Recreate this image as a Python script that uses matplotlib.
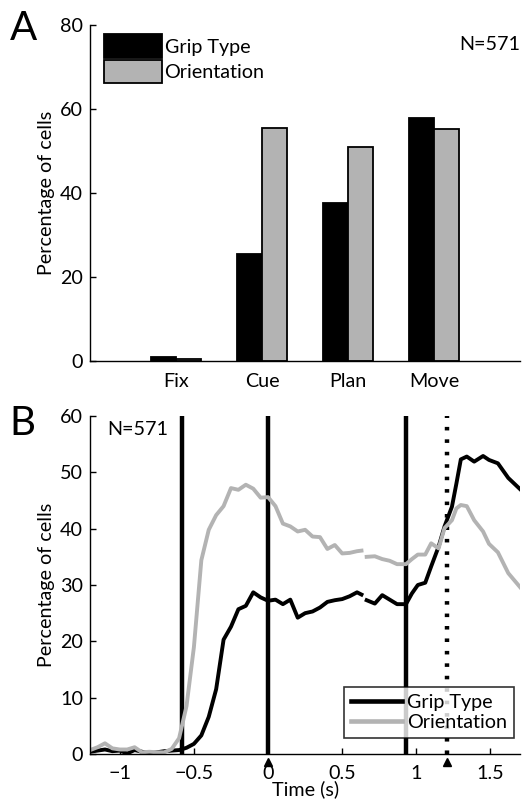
import numpy as np
import matplotlib
matplotlib.use("Agg")
import matplotlib.pyplot as plt

plt.rcParams['font.family'] = ['Lato', 'DejaVu Sans']
FS = 14.2
plt.rcParams['font.size'] = FS

GRAY = "#b3b3b3"

# Panel A: percentage of tuned cells per task phase
phases = ["Fix", "Cue", "Plan", "Move"]
pct_grip = [1.0, 25.5, 37.5, 57.8]
pct_orient = [0.5, 55.5, 51.0, 55.2]

# Panel B: sliding-window percentages over time (nan = gap)
t = [-1.2, -1.15, -1.1, -1.05, -1.0, -0.95, -0.9, -0.85, -0.8, -0.75,
     -0.7, -0.65, -0.6, -0.55, -0.5, -0.45, -0.4, -0.35, -0.3, -0.25,
     -0.2, -0.15, -0.1, -0.05, 0.0, 0.05, 0.1, 0.15, 0.2, 0.25,
     0.3, 0.35, 0.4, 0.45, 0.5, 0.55, 0.6, 0.63, 0.645, 0.665,
     0.72, 0.77, 0.82, 0.87, 0.93, 0.97, 1.01, 1.06, 1.1, 1.15,
     1.19, 1.24, 1.27, 1.3, 1.34, 1.39, 1.45, 1.49, 1.55, 1.62, 1.7]
grip_t = [0.4, 0.6, 0.8, 0.5, 0.6, 0.1, 0.7, 0.4, 0.1, 0.3,
          0.5, 0.6, 0.7, 1.1, 1.8, 3.3, 6.6, 11.5, 20.3, 22.6,
          25.7, 26.3, 28.7, 27.8, 27.2, 27.4, 26.6, 27.4, 24.2, 25.0,
          25.3, 26.0, 27.0, 27.3, 27.5, 28.0, 28.7, 28.3, np.nan, 27.3,
          26.7, 28.2, 27.4, 26.6, 26.6, 28.5, 30.0, 30.4, 33.3, 36.8,
          40.4, 43.9, 48.0, 52.3, 52.8, 51.9, 52.9, 52.2, 51.6, 49.0, 47.0]
orient_t = [0.7, 1.2, 1.9, 1.0, 0.8, 0.8, 1.2, 0.3, 0.4, 0.3,
            0.3, 0.9, 2.8, 8.5, 19.0, 34.4, 39.8, 42.4, 44.0, 47.2,
            46.9, 47.8, 47.1, 45.5, 45.6, 44.0, 40.9, 40.4, 39.5, 39.8,
            38.6, 38.5, 36.4, 37.1, 35.6, 35.7, 36.0, 36.1, np.nan, 35.0,
            35.1, 34.6, 34.3, 33.7, 33.7, 34.6, 35.4, 35.4, 37.4, 36.5,
            40.1, 41.5, 43.6, 44.2, 44.0, 41.5, 39.5, 37.3, 35.8, 32.1, 29.6]
event_times = [-0.58, 0.0, 0.93]
go_time = 1.21
marker_times = [0.0, 1.21]
n_cells = 571


def style_axes(ax):
    ax.spines["right"].set_visible(False)
    ax.spines["top"].set_visible(False)
    for s in ("left", "bottom"):
        ax.spines[s].set_linewidth(1.0)
    ax.tick_params(direction="in", length=4, width=1.0, labelsize=FS, pad=5)


fig = plt.figure(figsize=(5.27, 8.0), dpi=100)

# ---- Panel A ----
axA = fig.add_axes([0.171, 0.549, 0.816, 0.42])
x = np.arange(1, len(phases) + 1)
w = 0.29
axA.bar(x - w / 2, pct_grip, w, color="black", edgecolor="black", linewidth=1.3, label="Grip Type")
axA.bar(x + w / 2, pct_orient, w, color=GRAY, edgecolor="black", linewidth=1.3, label="Orientation")
axA.set_xlim(0, 5)
axA.set_ylim(0, 80)
axA.set_yticks([0, 20, 40, 60, 80])
axA.set_xticks(x)
axA.set_xticklabels(phases)
style_axes(axA)
axA.tick_params(axis="x", length=0, pad=9)
axA.set_ylabel("Percentage of cells", labelpad=4)
axA.legend(loc="upper left", bbox_to_anchor=(0.015, 0.995), frameon=False,
           handlelength=2.9, handleheight=1.45, handletextpad=0.15, labelspacing=0.1,
           borderaxespad=0.0, fontsize=FS)
axA.text(1.0, 0.94, f"N={n_cells}", transform=axA.transAxes, ha="right", va="center")
fig.text(0.018, 0.965, "A", fontsize=29, va="center", ha="left")

# ---- Panel B ----
axB = fig.add_axes([0.171, 0.0575, 0.816, 0.4225])
for et in event_times:
    axB.axvline(et, color="black", linewidth=3.2)
axB.axvline(go_time, color="black", linewidth=3.2, linestyle=(0, (0.8, 2.0)))
axB.plot(t, grip_t, color="black", linewidth=2.8, label="Grip Type")
axB.plot(t, orient_t, color=GRAY, linewidth=2.8, label="Orientation")
axB.plot(marker_times, [-0.025] * len(marker_times), "^", color="black", markersize=6,
         transform=axB.get_xaxis_transform(), clip_on=False)
axB.set_xlim(-1.2, 1.7)
axB.set_ylim(0, 60)
axB.set_xticks([-1, -0.5, 0, 0.5, 1, 1.5])
axB.set_xticklabels(["\u22121", "\u22120.5", "0", "0.5", "1", "1.5"])
axB.set_yticks([0, 10, 20, 30, 40, 50, 60])
style_axes(axB)
axB.tick_params(axis="x", pad=8)
axB.set_ylabel("Percentage of cells", labelpad=4)
axB.set_xlabel("Time (s)", labelpad=-1)
leg = axB.legend(loc="lower right", bbox_to_anchor=(0.985, 0.047), frameon=True, fancybox=False,
                 handlelength=2.6, handletextpad=0.25, labelspacing=0.15, borderpad=0.35,
                 borderaxespad=0.0, fontsize=FS)
leg.get_frame().set_edgecolor("black")
leg.get_frame().set_linewidth(1.2)
for h in leg.get_lines():
    h.set_linewidth(3.3)
axB.text(0.04, 0.96, f"N={n_cells}", transform=axB.transAxes, ha="left", va="center")
fig.text(0.018, 0.471, "B", fontsize=29, va="center", ha="left")

fig.savefig("out.png", dpi=100)
